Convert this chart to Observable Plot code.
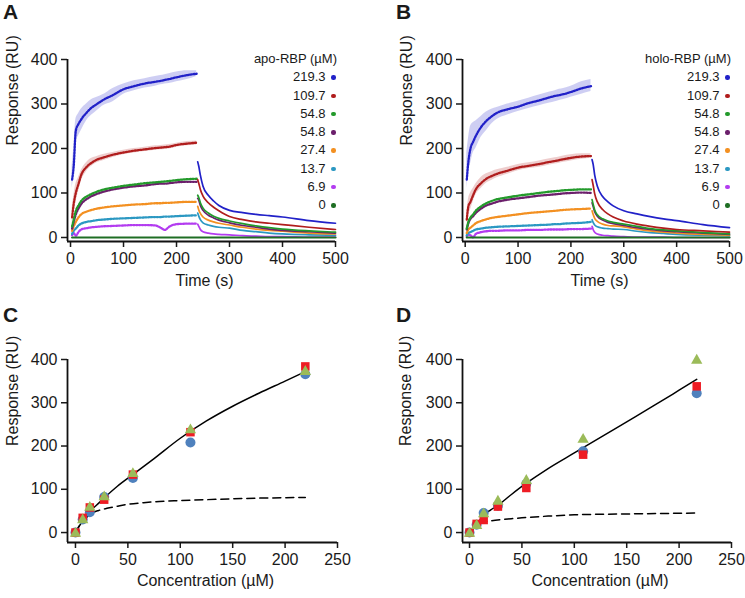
<!DOCTYPE html>
<html><head><meta charset="utf-8">
<script src="https://cdn.jsdelivr.net/npm/d3@7"></script>
<script src="https://cdn.jsdelivr.net/npm/@observablehq/plot@0.6"></script>
<style>
body{margin:0;background:#fff;}
#fig{position:relative;width:745px;height:598px;font-family:"Liberation Sans",Arial,sans-serif;color:#1a1a1a;overflow:hidden;}
.panel{position:absolute;}
.letter{position:absolute;font-weight:bold;font-size:21px;line-height:21px;}
.legend{position:absolute;font-size:13px;line-height:18.3px;text-align:right;white-space:nowrap;}
.legend .row{display:flex;justify-content:flex-end;align-items:center;height:18.3px;}
.legend .dot{display:inline-block;width:4.4px;height:4.4px;border-radius:50%;margin-left:5.5px;}
</style></head>
<body>
<div id="fig"></div>
<script>
// ---------- Sensorgram series (A: apo-RBP, B: holo-RBP) ----------
const seriesLabels = ["219.3","109.7","54.8","54.8","27.4","13.7","6.9","0"];
const seriesColors = ["#2121c8","#b01d1d","#239a2b","#6b1f6b","#f39021","#2b98c2","#b33cf0","#1f6e24"];
const assocTime  = [3,6,10,15,20,30,40,50,60,80,100,120,140,160,170,178,186,200,220,238];
const dissocTime = [240,242,245,250,260,270,280,300,325,350,375,400,450,500];

// apo-RBP association phase (centre of the dot cloud)
const apoAssoc219 = [130,160,240,255,265,280,292,300,308,320,333,340,346,350,352,354,356,360,365,368];
const apoAssoc110 = [45,75,100,120,140,158,168,175,179,186,191,195,198,201,202,203,204,208,211,213];
const apoAssoc55a = [25,40,60,72,82,92,98,103,107,112,116,119,122,124,125,126,127,129,131,132];
const apoAssoc55b = [20,35,52,65,75,86,93,98,102,108,112,115,117,120,121,121,122,124,125,125];
const apoAssoc27  = [15,25,35,45,52,58,62,65,67,70,72,74,75,77,77,78,78,79,80,80];
const apoAssoc14  = [8,15,20,27,31,35,37,39,40,42,43,44,45,46,46,47,47,48,49,50];
const apoAssoc7   = [5,10,4,12,18,21,23,24,25,26,27,28,28,27,22,17,24,30,31,31];
const apoAssoc0   = [0,0,0,0,0,0,0,0,0,0,0,0,0,0,0,0,0,0,0,0];
// upper / lower edges of the noisy dot clouds (219.3 and 109.7)
const apoUpper219 = [160,200,265,278,288,300,310,315,320,335,345,352,357,362,364,366,368,372,375,375];
const apoLower219 = [110,140,215,228,240,262,275,285,295,305,322,330,336,340,343,345,346,350,355,362];
const apoUpper110 = [65,92,120,135,150,168,178,182,186,191,196,200,203,206,207,208,209,212,216,217];
const apoLower110 = [30,55,78,102,125,148,160,168,172,180,186,190,193,196,197,198,199,203,206,208];
// apo-RBP dissociation phase
const apoDiss219 = [170,160,140,115,95,82,72,61,56,52,49,46,38,32];
const apoDiss110 = [130,122,108,93,78,68,60,47,40,35,32,29,23,18];
const apoDiss55a = [95,90,78,66,55,48,43,37,31,26,22,19,15,12];
const apoDiss55b = [88,84,72,61,50,44,39,33,27,23,19,16,13,10];
const apoDiss27  = [70,62,54,46,39,35,32,28,23,19,16,14,10,8];
const apoDiss14  = [55,48,40,33,28,25,23,21,16,13,10,8,6,5];
const apoDiss7   = [30,25,18,13,10,8,7,6,4,3,2,2,1,1];
const apoDiss0   = [0,0,0,0,0,0,0,0,0,0,0,0,0,0];

// holo-RBP association phase
const holoAssoc219 = [130,170,200,215,228,248,262,272,280,288,294,302,308,315,318,320,322,327,335,340];
const holoAssoc110 = [40,70,80,95,108,122,132,138,143,150,157,161,165,170,172,174,176,179,182,183];
const holoAssoc55a = [20,35,45,52,60,70,77,82,86,90,94,97,100,103,104,105,106,107,108,108];
const holoAssoc55b = [18,32,42,48,55,65,72,76,80,85,88,91,94,96,97,98,99,100,101,100];
const holoAssoc27  = [10,18,22,27,32,37,41,44,46,49,52,55,57,59,60,61,62,63,64,65];
const holoAssoc14  = [5,10,12,15,18,20,22,23,24,25,26,27,28,29,30,30,31,32,33,35];
const holoAssoc7   = [3,6,5,0,8,12,14,15,15,16,16,17,17,18,18,18,18,19,19,20];
const holoAssoc0   = [0,0,0,0,0,0,0,0,0,0,0,0,0,0,0,0,0,0,0,0];
const holoUpper219 = [190,220,250,258,262,272,282,288,292,300,306,313,320,327,330,333,335,340,350,355];
const holoLower219 = [110,145,165,190,200,225,240,255,265,275,283,290,296,302,305,308,310,315,322,328];
const holoUpper110 = [55,85,100,110,120,135,143,148,152,158,164,168,172,177,179,181,183,186,188,188];
const holoLower110 = [28,50,62,80,95,110,122,128,134,142,150,155,158,163,165,167,169,172,176,178];
// holo-RBP dissociation phase
const holoDiss219 = [175,165,140,115,92,80,71,60,53,47,42,38,29,22];
const holoDiss110 = [130,118,98,80,63,53,46,37,30,25,21,18,15,12];
const holoDiss55a = [85,75,62,51,42,37,34,30,25,20,17,15,11,8];
const holoDiss55b = [78,70,58,48,39,34,31,27,22,18,15,13,10,7];
const holoDiss27  = [60,52,43,36,30,27,26,24,19,15,12,10,7,5];
const holoDiss14  = [40,34,28,24,21,20,19,18,14,11,9,7,5,4];
const holoDiss7   = [25,18,12,8,5,4,3,2,1,1,1,0,0,0];
const holoDiss0   = [0,0,0,0,0,0,0,0,0,0,0,0,0,0];

// ---------- Binding isotherms (C: apo, D: holo) ----------
const concApo = [0, 6.9, 13.7, 27.4, 54.8, 109.7, 219.3];
const apoCircle   = [0, 30, 47, 82, 126, 208, 366];
const apoSquare   = [0, 34, 58, 76, 134, 232, 384];
const apoTriangle = [-2, 29, 58, 82, 136, 237, 372];
const apoFitX  = [0,5,10,15,20,27.4,40,54.8,75,100,125,150,175,200,219.3];
const apoFitY  = [0,20,38,52,63,80,107,134,171,218,258,292,322,350,372];
const apoSpecX = [0,3,6,9.5,13,17.5,22,30,40,49,65,80,100,125,150,185,219.3];
const apoSpecY = [0,13,24,32,40,47,51,56,61,65,69,72,74,76,78,80,81];

const concHolo = [0, 6.8, 13.5, 27.1, 54.2, 108.4, 216.8];
const holoCircle   = [0, 18, 45, 62, 113, 188, 322];
const holoSquare   = [0, 20, 29, 60, 103, 180, 338];
const holoTriangle = [-2, 16, 43, 72, 120, 215, 398];
const holoFitX  = [0,6.8,13.5,20,27.1,40,54.2,75,100,125,150,175,200,216.8];
const holoFitY  = [0,18,40,52,63,88,114,148,184,220,256,292,329,354];
const holoSpecX = [0,3,6,10,13.5,20,30,40,50,75,100,150,216.8];
const holoSpecY = [0,8,14,20,24,27,30,32,34,38,41,43,45];

// ---------- helpers ----------
const FONT = "'Liberation Sans', Arial, sans-serif";
function toRows(times, arr){
  const out = [];
  for (let i = arr.length - 1; i >= 0; i--) arr[i].forEach((v,j)=> out.push({s:i, t: times[j], v}));
  return out;
}
function bandRows(times, list){ // list of [seriesIndex, lower, upper]
  const out = [];
  list.forEach(([s, lo, hi]) => lo.forEach((v,j)=> out.push({s, t: times[j], lo: v, hi: hi[j]})));
  return out;
}
function pts(xs, ys){ return xs.map((x,i)=>({x, y: ys[i]})); }

function frameMarks(xmin, xmax, ymin, ymax, xticks, yticks, xTitle, yTitle, dxX, dyX, dxY, dyY){
  return [
    Plot.axisX({ticks: xticks, tickSize: 6, tickPadding: 5, strokeWidth: 1.5, label: null, fontSize: 16, fill: "#1a1a1a"}),
    Plot.axisY({ticks: yticks, tickSize: 6, tickPadding: 4, strokeWidth: 1.5, label: null, fontSize: 16, fill: "#1a1a1a"}),
    Plot.ruleX([xmin], {y1: ymin, y2: ymax, strokeWidth: 1.8, stroke: "#111"}),
    Plot.ruleY([ymin], {x1: xmin, x2: xmax, strokeWidth: 1.8, stroke: "#111"}),
    Plot.text([xTitle], {text: d=>d, frameAnchor: "bottom", dx: dxX, dy: dyX, fontSize: 16, fill: "#1a1a1a"}),
    Plot.text([yTitle], {text: d=>d, frameAnchor: "left", rotate: -90, dx: dxY, dy: dyY, fontSize: 16, fill: "#1a1a1a"})
  ];
}

function sensorgram(assocArr, dissocArr, bands, opts){
  const aRows = toRows(assocTime, assocArr);
  const dRows = toRows(dissocTime, dissocArr);
  const bRows = bandRows(assocTime, bands);
  const zeroIdx = 7;
  return Plot.plot({
    width: opts.width, height: 300,
    marginLeft: opts.ml, marginRight: opts.mr, marginTop: 59, marginBottom: 59,
    x: {domain: [opts.xmin, 500]},
    y: {domain: [-9, 400]},
    color: {domain: d3.range(8), range: seriesColors},
    style: {fontFamily: FONT, background: "transparent", overflow: "visible"},
    marks: [
      ...frameMarks(opts.xmin, 500, -9, 400, [0,100,200,300,400,500], [0,100,200,300,400], "Time (s)", "Response (RU)", opts.dxX, 44, opts.dxY, -5),
      Plot.areaY(bRows, {x: "t", y1: "lo", y2: "hi", z: "s", fill: "s", fillOpacity: 0.22, curve: "monotone-x"}),
      Plot.line(aRows.filter(d=>d.s !== zeroIdx), {x: "t", y: "v", z: "s", stroke: "s", curve: "monotone-x", strokeWidth: 2.3, strokeDasharray: "1.5,1.4"}),
      Plot.line(dRows.filter(d=>d.s !== zeroIdx), {x: "t", y: "v", z: "s", stroke: "s", curve: "monotone-x", strokeWidth: 1.7}),
      Plot.line(aRows.filter(d=>d.s === zeroIdx).concat(dRows.filter(d=>d.s === zeroIdx)), {x: "t", y: "v", stroke: "s", strokeWidth: 2.2})
    ]
  });
}

function isotherm(conc, circ, sq, tri, fitX, fitY, specX, specY, opts){
  return Plot.plot({
    width: opts.width, height: 298,
    marginLeft: opts.ml, marginRight: opts.mr, marginTop: 59, marginBottom: 56,
    x: {domain: [opts.xmin, 250]},
    y: {domain: [-23, 400]},
    style: {fontFamily: FONT, background: "transparent", overflow: "visible"},
    marks: [
      ...frameMarks(opts.xmin, 250, -23, 400, [0,50,100,150,200,250], [0,100,200,300,400], "Concentration (\u00b5M)", "Response (RU)", opts.dxX, 43, opts.dxY, -5),
      Plot.line(pts(fitX, fitY), {x: "x", y: "y", stroke: "#000", strokeWidth: 1.5, curve: "monotone-x"}),
      Plot.line(pts(specX, specY), {x: "x", y: "y", stroke: "#000", strokeWidth: 1.5, strokeDasharray: "8,5", curve: "monotone-x"}),
      Plot.dot(pts(conc, circ), {x: "x", y: "y", r: 5, fill: "#4f81bd", symbol: "circle"}),
      Plot.dot(pts(conc, sq), {x: "x", y: "y", r: 4.8, fill: "#ee1c24", symbol: "square"}),
      Plot.dot(pts(conc, tri), {x: "x", y: "y", r: 4.2, fill: "#9bbb59", symbol: "triangle"})
    ]
  });
}

// ---------- layout ----------
const fig = document.getElementById("fig");
function place(node, left, top){
  const d = document.createElement("div");
  d.className = "panel"; d.style.left = left + "px"; d.style.top = top + "px";
  d.appendChild(node); fig.appendChild(d);
}
function letter(txt, left, top){
  const d = document.createElement("div");
  d.className = "letter"; d.textContent = txt;
  d.style.left = left + "px"; d.style.top = top + "px";
  fig.appendChild(d);
}
function legend(title, right, top){
  const d = document.createElement("div");
  d.className = "legend";
  d.style.right = (745 - right) + "px"; d.style.top = top + "px";
  const t = document.createElement("div"); t.textContent = title; d.appendChild(t);
  seriesLabels.forEach((lab, i) => {
    const r = document.createElement("div"); r.className = "row";
    const s = document.createElement("span"); s.textContent = lab; r.appendChild(s);
    const dot = document.createElement("span"); dot.className = "dot"; dot.style.background = seriesColors[i];
    r.appendChild(dot);
    r.style.paddingRight = "1.5px";
    d.appendChild(r);
  });
  fig.appendChild(d);
}

place(sensorgram([apoAssoc219,apoAssoc110,apoAssoc55a,apoAssoc55b,apoAssoc27,apoAssoc14,apoAssoc7,apoAssoc0],
                 [apoDiss219,apoDiss110,apoDiss55a,apoDiss55b,apoDiss27,apoDiss14,apoDiss7,apoDiss0],
                 [[0, apoLower219, apoUpper219],[1, apoLower110, apoUpper110]],
                 {width: 372, ml: 67, mr: 37, xmin: -5.7, dxX: 3, dxY: -55}), 0, 0);
place(sensorgram([holoAssoc219,holoAssoc110,holoAssoc55a,holoAssoc55b,holoAssoc27,holoAssoc14,holoAssoc7,holoAssoc0],
                 [holoDiss219,holoDiss110,holoDiss55a,holoDiss55b,holoDiss27,holoDiss14,holoDiss7,holoDiss0],
                 [[0, holoLower219, holoUpper219],[1, holoLower110, holoUpper110]],
                 {width: 373, ml: 90, mr: 16, xmin: -5.1, dxX: 3.5, dxY: -56}), 372, 0);
place(isotherm(concApo, apoCircle, apoSquare, apoTriangle, apoFitX, apoFitY, apoSpecX, apoSpecY,
               {width: 372, ml: 67, mr: 35, xmin: -7.6, dxX: 3, dxY: -55}), 0, 300);
place(isotherm(concHolo, holoCircle, holoSquare, holoTriangle, holoFitX, holoFitY, holoSpecX, holoSpecY,
               {width: 373, ml: 90, mr: 14, xmin: -6.7, dxX: 3, dxY: -57}), 372, 300);

letter("A", 3, 1);
letter("B", 396, 1);
letter("C", 3, 304);
letter("D", 396, 304);
legend("apo-RBP (\u00b5M)", 337, 50);
legend("holo-RBP (\u00b5M)", 731, 50);
</script>
</body></html>
